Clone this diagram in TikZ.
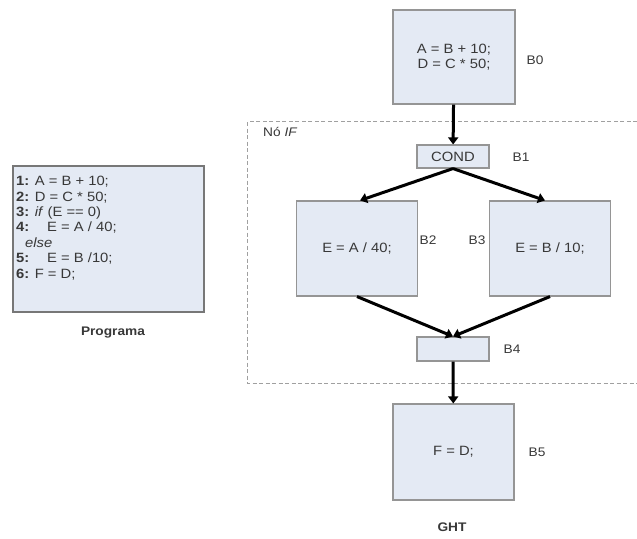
\documentclass[tikz,border=0pt]{standalone}
\usepackage{fontspec}
\setmainfont{Liberation Sans}[FakeStretch=1.1]
\usetikzlibrary{arrows.meta}
\definecolor{boxfill}{HTML}{E4EAF4}
\definecolor{boxline}{HTML}{959595}
\definecolor{frameline}{HTML}{A0A0A0}
\definecolor{ink}{HTML}{383838}
\begin{document}
\begin{tikzpicture}[x=1bp,y=-1bp,
  every node/.style={text=ink},
  block/.style={draw=boxline, fill=boxfill, line width=1.1bp, inner sep=0pt,
    align=center, font=\fontsize{13.5}{15}\selectfont},
  bigblock/.style={block, minimum width=121bp, minimum height=95bp},
  smallblock/.style={block, minimum width=72bp, minimum height=23bp},
  tag/.style={font=\fontsize{12.5}{14}\selectfont, inner sep=0pt},
  caption/.style={font=\bfseries\fontsize{12.5}{14}\selectfont, inner sep=0pt},
  flow/.style={line width=3bp, -{Triangle[length=7bp,width=10bp]}},
  region/.style={draw=frameline, line width=1bp, dash pattern=on 4bp off 2.5bp}
]
\useasboundingbox (0,0) rectangle (637,539);

% program listing
\node[block, draw=boxline!80!black, minimum width=191bp, minimum height=146bp] (prog) at (108.5,239) {};
\node[anchor=north west, align=left, inner sep=0pt,
  font=\fontsize{13.5}{15.5}\selectfont] (code) at (16,176)
  {\textbf{1:} A = B + 10;\\
   \textbf{2:} D = C * 50;\\
   \textbf{3:} \textit{if} (E == 0)\\
   \makebox[31bp][l]{\textbf{4:}}E = A / 40;\\
   \hspace*{9bp}\textit{else}\\
   \makebox[31bp][l]{\textbf{5:}}E = B /10;\\
   \textbf{6:} F = D;};
\node[caption] (progcap) at (113,333) {Programa};

% the IF region
\coordinate (rtop) at (637,122);
\coordinate (rbot) at (637,383);
\draw[region] (rtop) -| (247,383) -- (rbot);
\node[anchor=west, tag] (iflabel) at (263,132) {Nó \textit{IF}};

% blocks of the graph
\node[bigblock, minimum width=122bp, minimum height=94bp] (b0) at (454,57) {A = B + 10;\\D = C * 50;};
\node[smallblock] (cond) at (453,156.5) {COND};
\node[bigblock] (b2) at (357,248.5) {E = A / 40;};
\node[bigblock] (b3) at (550,248.5) {E = B / 10;};
\node[smallblock, minimum height=24bp] (b4) at (453,349) {};
\node[bigblock, minimum height=96bp] (b5) at (453.5,452) {F = D;};

% block names
\node[tag] (l0) at (535,60) {B0};
\node[tag] (l1) at (521,157) {B1};
\node[tag] (l2) at (428,240) {B2};
\node[tag] (l3) at (477,240) {B3};
\node[tag] (l4) at (512,349) {B4};
\node[tag] (l5) at (537,452) {B5};
\node[caption] (ght) at (452,527) {GHT};

% control flow
\draw[flow] (b0) -- (cond);
\draw[flow] (cond.south) -- ([xshift=3bp]b2.north);
\draw[flow] (cond.south) -- ([xshift=-5bp]b3.north);
\draw[flow] (b2.south) -- (b4.north);
\draw[flow] (b3.south) -- (b4.north);
\draw[flow] (b4) -- (b5);
\end{tikzpicture}
\end{document}
